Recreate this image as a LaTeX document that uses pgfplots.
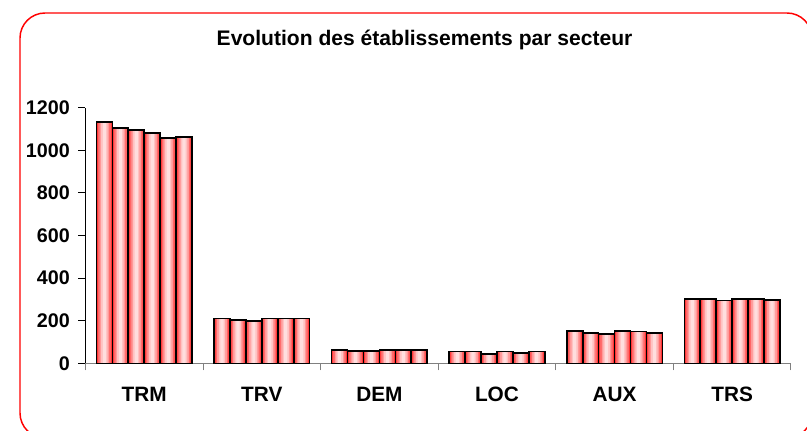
\documentclass[border=0pt]{standalone}
\usepackage{pgfplots}
\pgfplotsset{compat=1.18}
\usepackage{pgfplotstable}
\usepackage{fontspec}
\setmainfont{Liberation Sans}
\pgfplotstableread{
cat y1 y2 y3 y4 y5 y6
0 1132 1104 1095 1082 1059 1064
1 210 205 200 210 210 210
2 63 58 58 63 63 63
3 55 55 44 55 50 55
4 152 144 138 152 149 144
5 301 301 295 301 301 296
}\data
\newcommand\drawbar[2]{%
  \addplot[ybar, bar width=11.95pt, bar shift=#2pt, draw=none, fill=red!80] table[x=cat,y=#1] {\data};
  \addplot[ybar, bar width=9.6pt, bar shift=#2pt, draw=none, fill=red!60] table[x=cat,y=#1] {\data};
  \addplot[ybar, bar width=7.2pt, bar shift=#2pt, draw=none, fill=red!40] table[x=cat,y=#1] {\data};
  \addplot[ybar, bar width=4.8pt, bar shift=#2pt, draw=none, fill=red!24] table[x=cat,y=#1] {\data};
  \addplot[ybar, bar width=2.4pt, bar shift=#2pt, draw=none, fill=red!13] table[x=cat,y=#1] {\data};
  \addplot[ybar, bar width=11.95pt, bar shift=#2pt, draw=black, line width=1.25pt, fill=none] table[x=cat,y=#1] {\data};
}
\begin{document}
\begin{tikzpicture}
\path[use as bounding box] (0,0) rectangle (605.25pt,322.5pt);
\draw[red, line width=1.1pt, rounded corners=18.75pt] (15pt,-6pt) rectangle (609pt,312.75pt);
\node[anchor=base, font=\fontsize{15.8pt}{18pt}\selectfont\bfseries] at (318.4pt,288.75pt) {Evolution des établissements par secteur};
\begin{axis}[
  at={(64.1pt,50pt)}, anchor=south west,
  scale only axis, width=529.1pt, height=191.7pt,
  xmin=-0.5, xmax=5.5, ymin=0, ymax=1200,
  ytick={0,200,...,1200},
  xtick={0,...,5},
  xticklabels={TRM,TRV,DEM,LOC,AUX,TRS},
  minor xtick={-0.5,0.5,1.5,2.5,3.5,4.5,5.5},
  major x tick style={draw=none},
  minor x tick style={draw=gray, line width=0.8pt},
  y tick style={draw=black, line width=0.8pt},
  tick align=outside,
  major tick length=5.25pt, minor tick length=5.25pt,
  axis lines*=left,
  x axis line style={draw=gray, line width=1pt},
  y axis line style={draw=black, line width=0.8pt},
  /pgf/number format/assume math mode=true,
  /pgf/number format/1000 sep={},
  yticklabel style={font=\fontsize{14.8pt}{16pt}\selectfont\bfseries, xshift=-3pt},
  xticklabel style={font=\fontsize{15.6pt}{18pt}\selectfont\bfseries, anchor=base, yshift=-23.5pt},
  clip=false,
]
\drawbar{y1}{-29.875}
\drawbar{y2}{-17.925}
\drawbar{y3}{-5.975}
\drawbar{y4}{5.975}
\drawbar{y5}{17.925}
\drawbar{y6}{29.875}
\end{axis}
\end{tikzpicture}
\end{document}
